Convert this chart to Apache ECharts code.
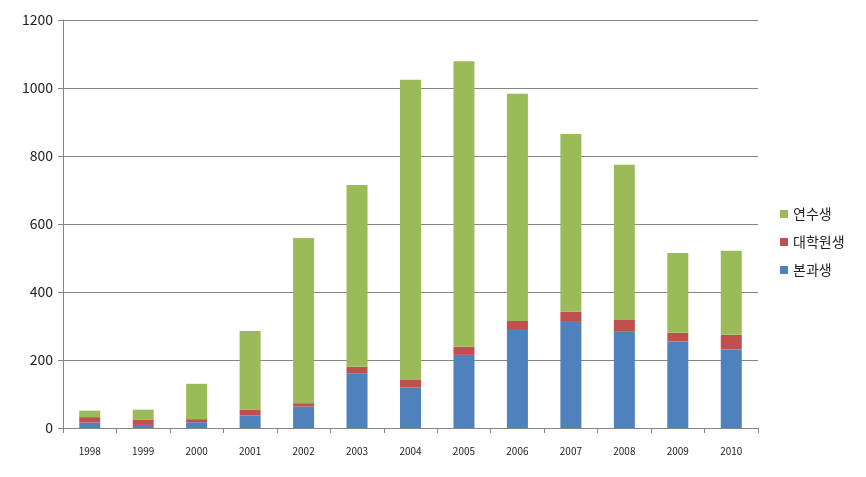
<!DOCTYPE html>
<html>
<head>
<meta charset="utf-8">
<script src="https://cdn.jsdelivr.net/npm/echarts@6/dist/echarts.min.js"></script>
<style>html,body{margin:0;padding:0;background:#fff;}#c{width:866px;height:477px;}</style>
</head>
<body>
<div id="c"></div>
<script>
const years = ['1998','1999','2000','2001','2002','2003','2004','2005','2006','2007','2008','2009','2010'];
const undergrad = [16, 9, 17, 37, 63, 161, 119, 215, 291, 312, 283, 254, 231];   // 본과생
const graduate  = [16, 15, 9, 17, 10, 19, 24, 24, 24, 30, 35, 26, 43];           // 대학원생
const trainee   = [19, 30, 104, 231, 486, 535, 881, 840, 668, 523, 456, 235, 247]; // 연수생
const yTicks = [0, 200, 400, 600, 800, 1000, 1200];
const legendOrder = ['연수생', '대학원생', '본과생'];

const font = '"Noto Sans CJK KR", "Noto Sans", sans-serif';
const chart = echarts.init(document.getElementById('c'));
chart.setOption({
  animation: false,
  textStyle: { fontFamily: font },
  grid: { left: 63, right: 108, top: 20, bottom: 49 },
  legend: {
    orient: 'vertical',
    left: 775,
    top: 202,
    itemWidth: 8,
    itemHeight: 8,
    itemGap: 14,
    icon: 'rect',
    data: legendOrder,
    textStyle: { fontSize: 14, color: '#222', fontFamily: font }
  },
  xAxis: {
    type: 'category',
    data: years,
    boundaryGap: true,
    axisLine: { lineStyle: { color: '#868686' } },
    axisTick: { show: true, length: 5, alignWithLabel: false, lineStyle: { color: '#868686' } },
    axisLabel: { fontSize: 10, color: '#222', margin: 18 }
  },
  yAxis: {
    type: 'value',
    min: yTicks[0],
    max: yTicks[yTicks.length - 1],
    interval: 200,
    axisLine: { show: true, lineStyle: { color: '#868686' } },
    axisTick: { show: true, length: 5, lineStyle: { color: '#868686' } },
    axisLabel: { fontSize: 14, color: '#222', margin: 10, formatter: v => String(v) },
    splitLine: { lineStyle: { color: '#868686' } }
  },
  series: [
    { name: '본과생', type: 'bar', stack: 's', barWidth: 21, data: undergrad, itemStyle: { color: '#4F81BD' } },
    { name: '대학원생', type: 'bar', stack: 's', barWidth: 21, data: graduate, itemStyle: { color: '#C0504D' } },
    { name: '연수생', type: 'bar', stack: 's', barWidth: 21, data: trainee, itemStyle: { color: '#9BBB59' } }
  ]
});
</script>
</body>
</html>
